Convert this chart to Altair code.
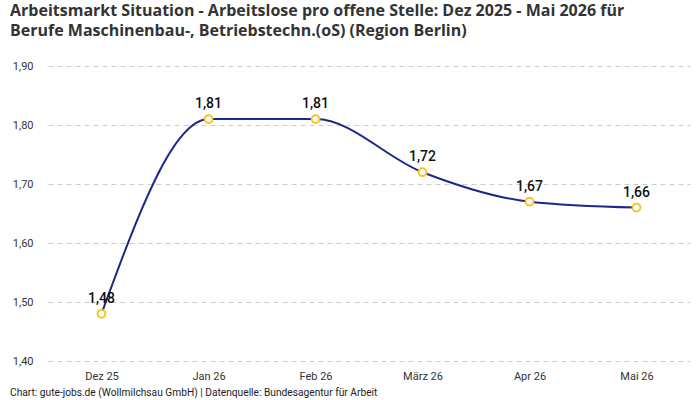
import altair as alt
import pandas as pd

months = ["Dez 25", "Jan 26", "Feb 26", "März 26", "Apr 26", "Mai 26"]
values = [1.48, 1.81, 1.81, 1.72, 1.67, 1.66]
labels = ["1,48", "1,81", "1,81", "1,72", "1,67", "1,66"]

df = pd.DataFrame({"month": months, "value": values, "label": labels})

FONT = "Roboto"
W, H = 642, 295

x = alt.X("month:N", sort=months, title=None,
          scale=alt.Scale(type="point", padding=0.5),
          axis=alt.Axis(labelAngle=0, domain=False, ticks=False, grid=False,
                        labelFontSize=11, labelColor="#333333", labelPadding=9, labelFont=FONT))
y = alt.Y("value:Q", title=None,
          scale=alt.Scale(domain=[1.4, 1.9], nice=False, zero=False),
          axis=alt.Axis(values=[1.4, 1.5, 1.6, 1.7, 1.8, 1.9], format=".2f",
                        labelExpr="replace(datum.label, '.', ',')",
                        domain=False, ticks=False, grid=True, gridDash=[5, 4],
                        gridColor="#cccccc", gridWidth=1,
                        labelFontSize=11, labelColor="#333333", labelPadding=15, labelFont=FONT))

base = alt.Chart(df).encode(x=x, y=y)

line = base.mark_line(interpolate="monotone", color="#1b2a88", strokeWidth=2)
points = base.mark_point(shape="circle", filled=True, fill="white", stroke="#f7c325",
                         strokeWidth=2, size=60, opacity=1)
text = base.mark_text(dy=-15, fontSize=14, color="#111111", font=FONT, fontWeight=500).encode(text="label:N")

footer = alt.Chart(pd.DataFrame({"t": ["Chart: gute-jobs.de (Wollmilchsau GmbH) | Datenquelle: Bundesagentur für Arbeit"]})).mark_text(
    align="left", baseline="middle", fontSize=10.2, color="#222222", font=FONT
).encode(x=alt.value(-38), y=alt.value(H + 32), text="t:N")

chart = alt.layer(line, points, text, footer).properties(
    width=W, height=H,
    autosize=alt.AutoSizeParams(type="none"),
    padding={"left": 48, "top": 66, "right": 10, "bottom": 39},
    title=alt.TitleParams(
        text=["Arbeitsmarkt Situation - Arbeitslose pro offene Stelle: Dez 2025 - Mai 2026 für",
              "Berufe Maschinenbau-, Betriebstechn.(oS) (Region Berlin)"],
        anchor="start", offset=21, fontSize=16, fontWeight="bold",
        color="#333333", font="Open Sans", lineHeight=20),
).configure_view(stroke=None)

chart.save("out.html", embed_options={"renderer": "svg", "actions": False})
